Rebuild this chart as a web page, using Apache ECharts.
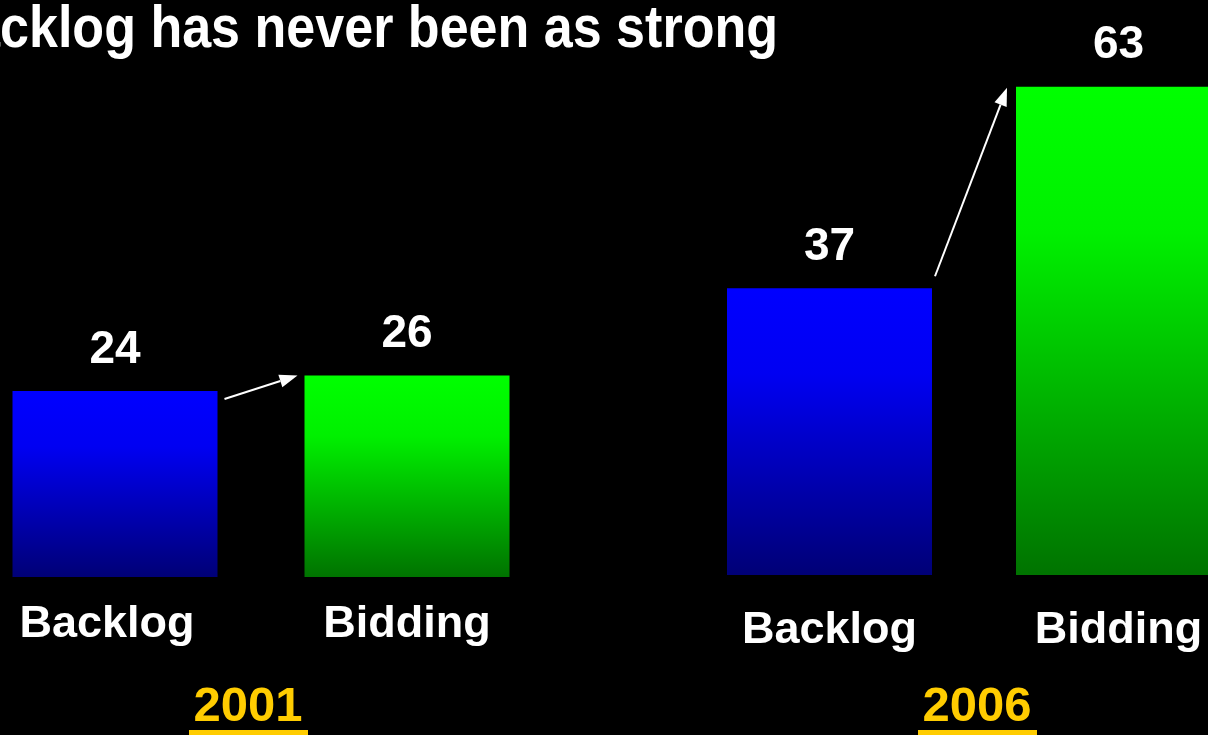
<!DOCTYPE html>
<html>
<head>
<meta charset="utf-8">
<script src="https://cdn.jsdelivr.net/npm/echarts@6/dist/echarts.min.js"></script>
<style>
  html, body { margin: 0; padding: 0; background: #000; }
  #chart { width: 1208px; height: 735px; }
</style>
</head>
<body>
<div id="chart"></div>
<script>
// Order volumes, two snapshots
const categories = ['Backlog', 'Bidding'];
const years = ['2001', '2006'];
const values2001 = [24, 26];
const values2006 = [37, 63];
const titleText = 'Backlog has never been as strong';

const FONT = '"Liberation Sans", Arial, sans-serif';

const blueFill = new echarts.graphic.LinearGradient(0, 0, 0, 1, [
  { offset: 0, color: '#0000ff' },
  { offset: 0.3, color: '#0000f2' },
  { offset: 1, color: '#000076' }
]);
const greenFill = new echarts.graphic.LinearGradient(0, 0, 0, 1, [
  { offset: 0, color: '#00ff00' },
  { offset: 0.3, color: '#00f000' },
  { offset: 1, color: '#007300' }
]);
const fills = [blueFill, greenFill];

const labelFont = { color: '#ffffff', fontWeight: 'bold', fontFamily: FONT };

function xAxisFor(gridIndex, margin, firstPadRight) {
  return {
    type: 'category', gridIndex,
    data: categories.map((c, i) => (i === 0 && firstPadRight
      ? { value: c, textStyle: { padding: [0, firstPadRight, 0, 0] } }
      : c)),
    axisLine: { show: false }, axisTick: { show: false },
    axisLabel: Object.assign({ fontSize: 45, margin, interval: 0 }, labelFont)
  };
}
function yAxisFor(gridIndex) {
  return { type: 'value', gridIndex, min: 0, max: 70, show: false, splitLine: { show: false } };
}
function seriesFor(idx, vals) {
  return {
    type: 'bar', xAxisIndex: idx, yAxisIndex: idx, barWidth: 205,
    data: vals.map((v, i) => ({ value: v, itemStyle: { color: fills[i] } })),
    label: Object.assign({ show: true, position: 'top', distance: 18, fontSize: 46 }, labelFont),
    silent: true
  };
}

const chart = echarts.init(document.getElementById('chart'), null, { renderer: 'canvas' });
chart.setOption({
  backgroundColor: '#000000',
  animation: false,
  grid: [
    { left: -31, width: 584, top: 34.5, bottom: 158, outerBoundsMode: 'none', containLabel: false },
    { left: 685, width: 578, top: 32.5, bottom: 160, outerBoundsMode: 'none', containLabel: false }
  ],
  xAxis: [xAxisFor(0, 25, 16), xAxisFor(1, 33, 0)],
  yAxis: [yAxisFor(0), yAxisFor(1)],
  series: [seriesFor(0, values2001), seriesFor(1, values2006)]
});

// Annotations: title, arrows between bar pairs, underlined year captions
function px(grid, cat, val) {
  return chart.convertToPixel({ xAxisIndex: grid, yAxisIndex: grid }, [cat, val]);
}
const half = 102.5;
const b1 = px(0, 0, values2001[0]), d1 = px(0, 1, values2001[1]);
const b2 = px(1, 0, values2006[0]), d2 = px(1, 1, values2006[1]);

function arrow(x1, y1, x2, y2) {
  const ang = Math.atan2(y2 - y1, x2 - x1);
  const L = 18, W = 6.5;
  const bx = x2 - L * Math.cos(ang), by = y2 - L * Math.sin(ang);
  const nx = -Math.sin(ang) * W, ny = Math.cos(ang) * W;
  return [
    { type: 'line', shape: { x1, y1, x2: bx, y2: by }, style: { stroke: '#ffffff', lineWidth: 2 } },
    { type: 'polygon', shape: { points: [[x2, y2], [bx + nx, by + ny], [bx - nx, by - ny]] }, style: { fill: '#ffffff' } }
  ];
}

const yearCaption = (text, cx) => [
  { type: 'text', x: cx, y: 707, style: { text, fill: '#ffcc00', font: 'bold 49px ' + FONT, textAlign: 'center', textVerticalAlign: 'middle' } },
  { type: 'rect', shape: { x: cx - 59, y: 730, width: 119, height: 5 }, style: { fill: '#ffcc00' } }
];

// Condensed headline: squeeze the bold face horizontally so the visible part ends at the right spot
const titleFont = 'bold 60px ' + FONT;
const ctx = document.createElement('canvas').getContext('2d');
ctx.font = titleFont;
const tailWidth = ctx.measureText(titleText.slice(2)).width;
const squeeze = 778 / tailWidth;

chart.setOption({
  graphic: [
    { type: 'text', x: 778, y: 30, scaleX: squeeze, style: { text: titleText, fill: '#ffffff', font: titleFont, textAlign: 'right', textVerticalAlign: 'middle' } },
    ...arrow(b1[0] + half + 7, b1[1] + 8, d1[0] - half - 7, d1[1]),
    ...arrow(b2[0] + half + 3, b2[1] - 12, d2[0] - half - 9, d2[1] + 1),
    ...yearCaption(years[0], (b1[0] + d1[0]) / 2 - 13),
    ...yearCaption(years[1], (b2[0] + d2[0]) / 2 + 3)
  ]
});
</script>
</body>
</html>
